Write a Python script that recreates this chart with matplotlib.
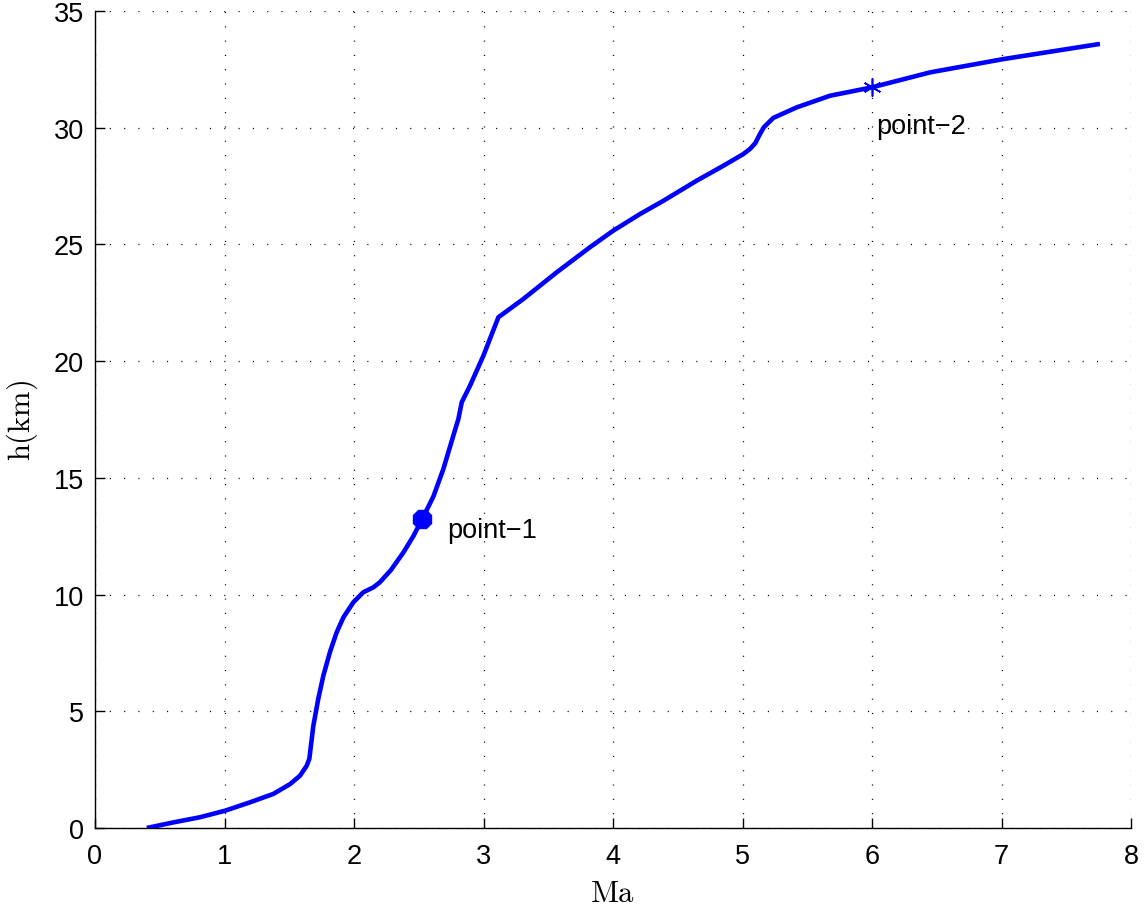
import matplotlib
matplotlib.use("Agg")
import matplotlib.pyplot as plt

plt.rcParams['font.family'] = ['Liberation Sans', 'DejaVu Sans']
plt.rcParams['mathtext.fontset'] = 'cm'
plt.rcParams['lines.scale_dashes'] = False

# Curve data
ma = [0.40, 0.605, 0.81, 1.004, 1.197, 1.377, 1.506, 1.583, 1.635, 1.655, 1.686, 1.724,
      1.763, 1.815, 1.866, 1.918, 1.995, 2.072, 2.15, 2.2, 2.285, 2.381, 2.458, 2.527,
      2.613, 2.69, 2.767, 2.806, 2.832, 2.896, 2.999, 3.115, 3.307, 3.564, 3.822, 4.002,
      4.208, 4.389, 4.646, 4.852, 5.006, 5.06, 5.10, 5.13, 5.165, 5.238, 5.418, 5.676,
      6.0, 6.448, 7.014, 7.76]
h = [0.0, 0.24, 0.46, 0.74, 1.10, 1.46, 1.88, 2.24, 2.67, 2.96, 4.38, 5.53,
     6.52, 7.55, 8.38, 9.02, 9.67, 10.10, 10.31, 10.53, 11.05, 11.80, 12.50, 13.24,
     14.20, 15.38, 16.81, 17.52, 18.24, 18.95, 20.23, 21.88, 22.66, 23.80, 24.88, 25.59,
     26.30, 26.87, 27.73, 28.37, 28.87, 29.10, 29.35, 29.68, 30.02, 30.42, 30.87, 31.37,
     31.73, 32.37, 32.94, 33.59]

p1_ma, p1_h = 2.527, 13.24
p2_ma, p2_h = 6.0, 31.73
p1_label, p2_label = 'point\u22121', 'point\u22122'

xticks = [0, 1, 2, 3, 4, 5, 6, 7, 8]
yticks = [0, 5, 10, 15, 20, 25, 30, 35]

fig = plt.figure(figsize=(11.44, 9.12), dpi=100)
ax = fig.add_axes([95/1144, 1 - 829/912, (1131 - 95)/1144, (829 - 12)/912])

ax.plot(ma, h, color='#0000ff', lw=3.3, solid_capstyle='butt', solid_joinstyle='round', zorder=3)
ax.plot([p1_ma], [p1_h], marker='8', color='#0000ff', markersize=13.5, zorder=4)
ax.plot([p2_ma], [p2_h], marker=(6, 2, 0), color='#0000ff', markersize=13, mew=1.2, zorder=4)
ax.text(2.718, 12.45, p1_label, fontsize=19.5, va='baseline', ha='left')
ax.text(6.03, 29.77, p2_label, fontsize=19.5, va='baseline', ha='left')

ax.set_xlim(0, 8)
ax.set_ylim(0, 35)
ax.set_xticks(xticks)
ax.set_yticks(yticks)
ax.tick_params(direction='in', length=7, width=1, labelsize=19.5)
ax.tick_params(axis='x', pad=11)
ax.tick_params(axis='y', pad=8)
for s in ['top', 'right']:
    ax.spines[s].set_visible(False)
for s in ['left', 'bottom']:
    ax.spines[s].set_linewidth(1.0)
ax.grid(True, color='black', linestyle=(0, (0.8, 9.5)), linewidth=0.9)
ax.set_axisbelow(True)

ax.set_xlabel(r'$\mathrm{Ma}$', fontsize=22, labelpad=6)
ax.set_ylabel(r'$\mathrm{h(km)}$', fontsize=22, labelpad=10)

fig.savefig('out.png', dpi=100)
